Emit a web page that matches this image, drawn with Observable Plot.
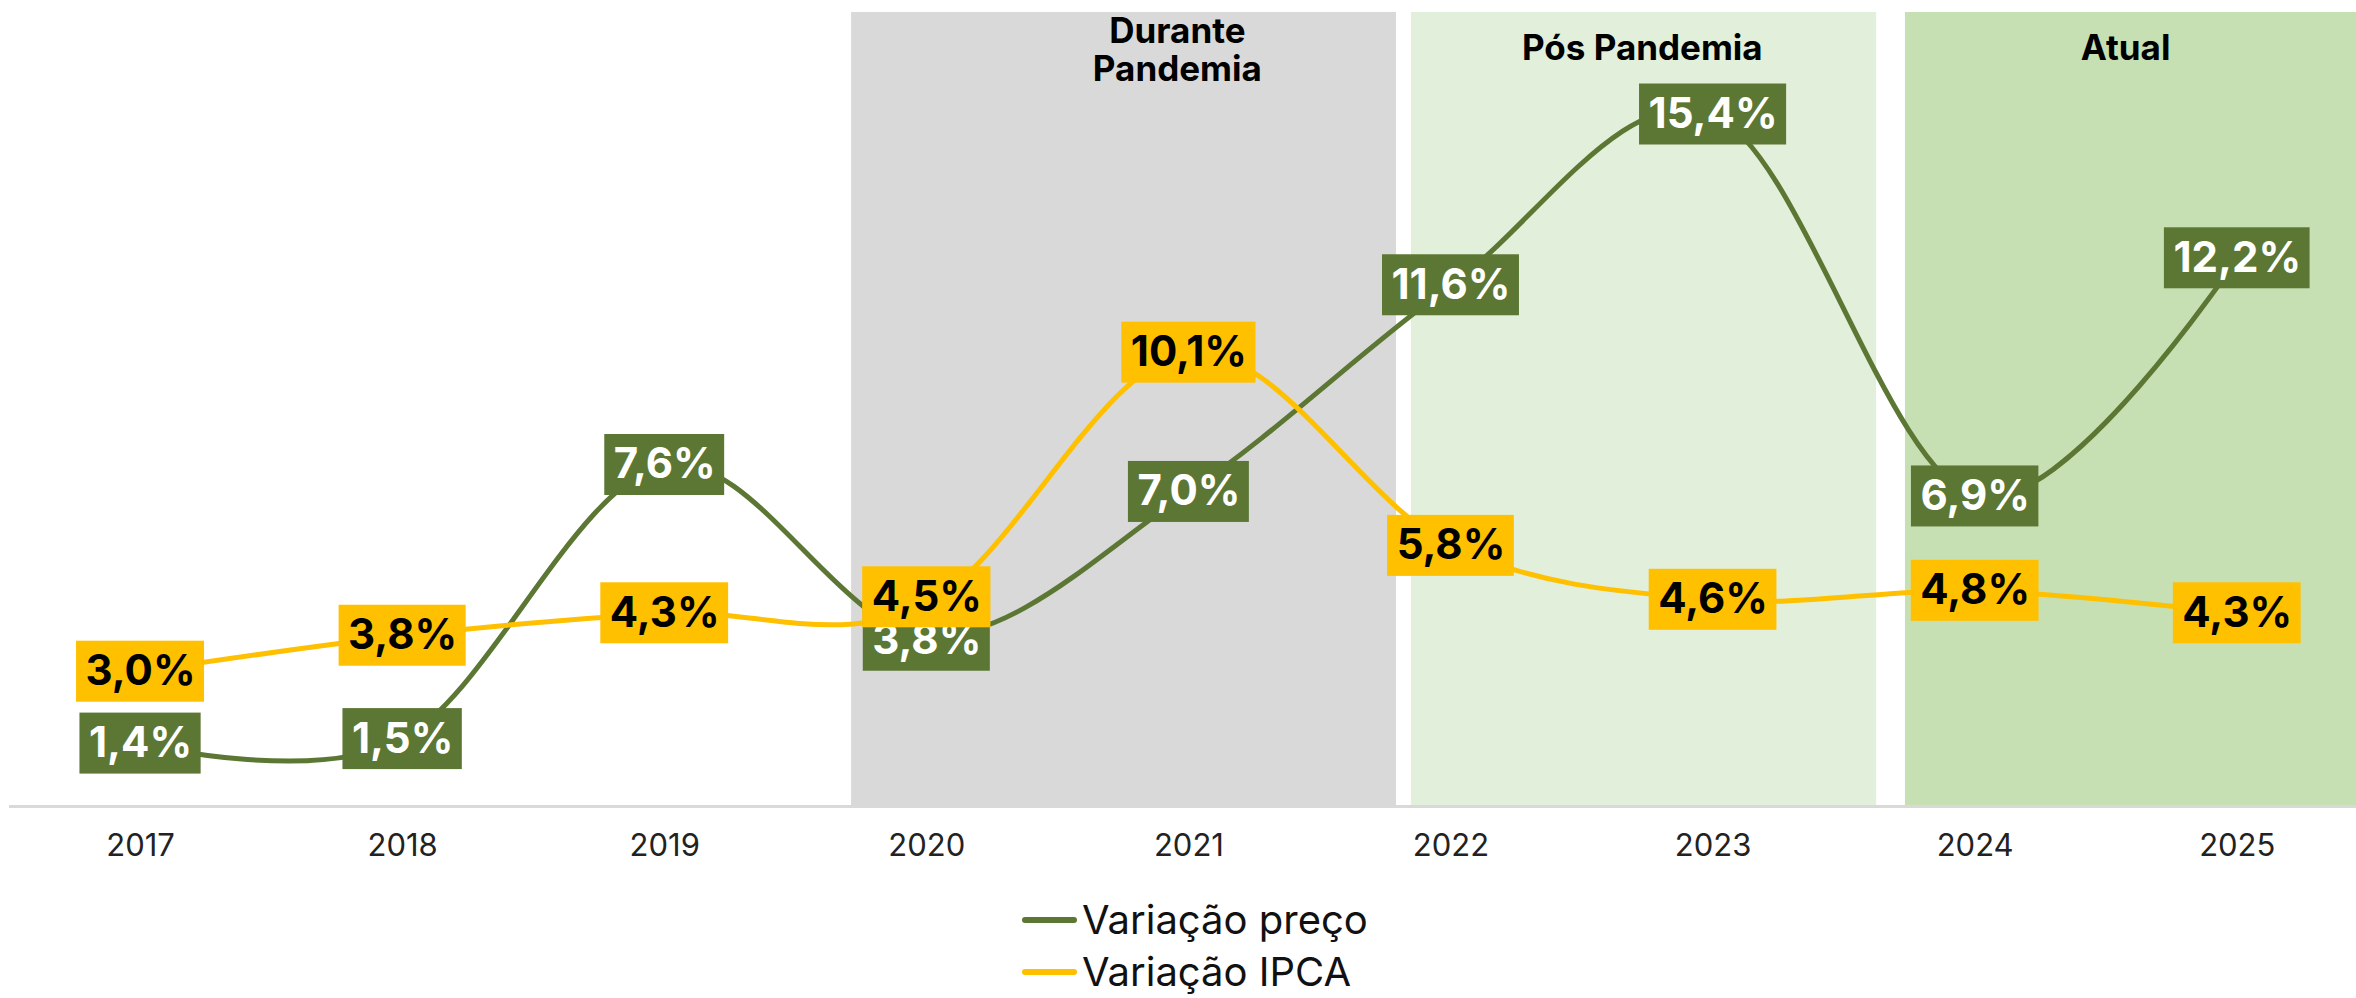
<!DOCTYPE html>
<html><head><meta charset="utf-8">
<script src="https://cdn.jsdelivr.net/npm/d3@7"></script>
<script src="https://cdn.jsdelivr.net/npm/@observablehq/plot@0.6"></script>
<style>
body{margin:0;background:#fff;font-family:Inter, sans-serif;}
#wrap{position:relative;width:2356px;height:998px;overflow:hidden;}
#wrap svg{display:block;}
.item{position:absolute;left:1022px;display:flex;align-items:center;height:50px;font-size:40px;line-height:50px;color:#111;font-family:Inter, sans-serif;}
.sw{width:55px;height:6px;border-radius:3px;margin-right:5px;}
</style></head>
<body><div id="wrap"></div>
<script>
const years = [2017, 2018, 2019, 2020, 2021, 2022, 2023, 2024, 2025];
const precoValues = [1.4, 1.5, 7.6, 3.8, 7.0, 11.6, 15.4, 6.9, 12.2];
const ipcaValues = [3.0, 3.8, 4.3, 4.5, 10.1, 5.8, 4.6, 4.8, 4.3];
const seriesNames = ["Variação preço", "Variação IPCA"];
const seriesColors = ["#5C7734", "#FFC000"];
const labelTextColors = ["#FFFFFF", "#000000"];
const bandNames = ["Durante\nPandemia", "Pós Pandemia", "Atual"];
const bandStarts = [2019.713, 2021.849, 2023.734];
const bandEnds = [2021.792, 2023.624, 2025.455];
const bandLabelX = [2020.956, 2022.73, 2024.574];
const bandColors = ["#D9D9D9", "#E2EFDA", "#C6E0B4"];

const W = 2356, H = 880;
const fmt = v => v.toFixed(1).replace(".", ",") + "%";
const ctx = document.createElement("canvas").getContext("2d");
ctx.font = "bold 42px Inter";

const series = [precoValues, ipcaValues].map((vals, s) =>
  years.map((year, i) => ({year, value: vals[i], series: seriesNames[s], s}))
);
const bands = bandNames.map((name, i) => ({name, x1: bandStarts[i], x2: bandEnds[i], lx: bandLabelX[i], fill: bandColors[i], two: name.includes("\n")}));

// small manual nudges of the overlapping 2020 labels (pixels)
const nudge = (d) => d.year === 2020 ? (d.s === 0 ? 5 : -7) : 0;

function labelMarks(data) {
  const marks = [];
  for (const d of data) {
    const txt = fmt(d.value);
    const w = ctx.measureText(txt).width + 18;
    const h = 61, dy = nudge(d);
    marks.push(Plot.rect([d], {
      x1: "year", x2: "year", y1: "value", y2: "value",
      insetLeft: -w / 2, insetRight: -w / 2,
      insetTop: -h / 2 + dy, insetBottom: -h / 2 - dy,
      fill: seriesColors[d.s]
    }));
    marks.push(Plot.text([d], {
      x: "year", y: "value", text: () => txt, dy,
      fill: labelTextColors[d.s], fontSize: 42, fontWeight: "bold", fontFamily: "Inter"
    }));
  }
  return marks;
}

const bandTextOpts = {x: "lx", text: "name", frameAnchor: "top", lineAnchor: "middle", lineHeight: 1.09,
  fontSize: 35, fontWeight: "bold", fill: "#000", fontFamily: "Inter"};

const chart = Plot.plot({
  width: W, height: H,
  marginLeft: 9, marginRight: 0, marginTop: 12, marginBottom: 74,
  x: {domain: [2016.5, 2025.455], axis: null},
  y: {domain: [0, 17.67], axis: null},
  style: {fontFamily: "Inter, sans-serif", background: "white", overflow: "visible"},
  marks: [
    Plot.rect(bands, {x1: "x1", x2: "x2", fill: "fill"}),
    Plot.text(bands.filter(b => b.two), {...bandTextOpts, dy: 37}),
    Plot.text(bands.filter(b => !b.two), {...bandTextOpts, dy: 35}),
    Plot.ruleY([0], {stroke: "#D9D9D9", strokeWidth: 3}),
    Plot.text(years, {x: d => d, frameAnchor: "bottom", lineAnchor: "middle", dy: 40, text: d => String(d),
      fontSize: 31, fill: "#222", fontFamily: "Inter"}),
    Plot.line(series[0], {x: "year", y: "value", stroke: seriesColors[0], strokeWidth: 5, curve: "cardinal"}),
    Plot.line(series[1], {x: "year", y: "value", stroke: seriesColors[1], strokeWidth: 5, curve: "cardinal"}),
    ...labelMarks(series[0]),
    ...labelMarks(series[1])
  ]
});

const wrap = document.getElementById("wrap");
wrap.appendChild(chart);
const rowCenters = [920, 972];
seriesNames.forEach((name, i) => {
  const item = document.createElement("div");
  item.className = "item";
  item.style.top = (rowCenters[i] - 25) + "px";
  const sw = document.createElement("div");
  sw.className = "sw";
  sw.style.background = seriesColors[i];
  const t = document.createElement("span");
  t.textContent = name;
  item.appendChild(sw); item.appendChild(t);
  wrap.appendChild(item);
});
</script>
</body></html>
